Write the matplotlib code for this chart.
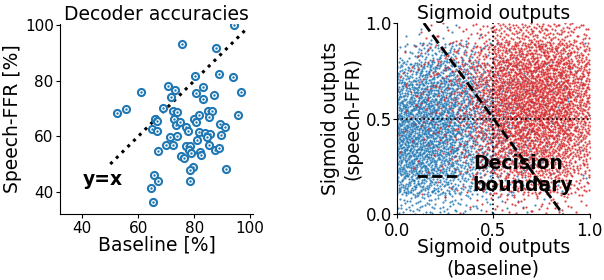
import numpy as np
from matplotlib import pyplot as plt

# left panel: decoder accuracies (%), one point per subject
baseline = [94.4, 75.8, 87.9, 80.2, 88.9, 93.7, 61.0, 70.5, 73.3, 71.6,
            80.8, 83.0, 83.2, 86.9, 96.9, 52.4, 55.6, 69.0, 72.3, 74.0,
            65.8, 66.6, 72.6, 73.6, 74.9, 77.1, 77.8, 79.8, 80.6, 81.8,
            85.1, 86.2, 85.4, 89.2, 91.0, 95.5, 64.9, 66.8, 71.4, 73.8,
            81.7, 83.7, 85.7, 84.5, 89.5, 80.9, 69.9, 72.4, 67.1, 76.9,
            78.5, 85.4, 87.3, 88.7, 78.3, 78.8, 82.1, 82.3, 75.2, 76.2,
            79.6, 78.6, 91.2, 78.6, 65.5, 67.1, 64.4, 65.4]
speech_ffr = [100.0, 93.2, 91.8, 81.9, 82.3, 81.2, 75.9, 78.2, 76.8, 74.3,
              75.7, 77.9, 73.3, 74.7, 75.9, 68.5, 69.8, 70.3, 69.1, 68.6,
              66.1, 65.4, 66.1, 64.0, 65.0, 63.3, 61.8, 66.2, 65.0, 67.6,
              69.0, 69.1, 66.9, 64.3, 63.3, 67.7, 62.6, 61.9, 59.7, 60.1,
              61.4, 61.1, 60.8, 59.6, 60.4, 58.6, 57.0, 57.0, 54.7, 56.5,
              56.4, 56.9, 55.2, 55.8, 55.0, 53.9, 54.3, 53.1, 53.0, 52.0,
              49.1, 47.8, 48.3, 44.0, 45.9, 43.8, 41.2, 36.4]
identity = [50, 99]

# right panel: point counts per 0.1 x 0.1 cell, rows from y=0.9 (top) down to y=0.0
blue_counts = [
    [1, 3, 3, 2, 1, 1, 0, 0, 0, 0],
    [12, 30, 32, 20, 8, 4, 3, 2, 2, 1],
    [45, 60, 55, 40, 20, 10, 6, 4, 3, 2],
    [70, 80, 75, 55, 30, 15, 8, 5, 4, 2],
    [90, 95, 85, 60, 35, 18, 10, 6, 4, 2],
    [100, 100, 90, 60, 35, 20, 10, 6, 4, 2],
    [100, 95, 80, 55, 32, 18, 10, 5, 3, 2],
    [85, 80, 65, 45, 26, 14, 8, 4, 3, 1],
    [60, 55, 45, 30, 18, 10, 6, 3, 2, 1],
    [20, 22, 18, 12, 8, 5, 3, 2, 1, 0],
]
red_counts = [
    [0, 3, 5, 8, 15, 30, 35, 35, 30, 20],
    [2, 6, 10, 15, 30, 55, 65, 65, 60, 40],
    [4, 8, 12, 20, 40, 70, 85, 85, 80, 55],
    [5, 8, 12, 22, 45, 80, 95, 95, 90, 60],
    [4, 6, 10, 20, 45, 80, 95, 95, 90, 60],
    [3, 5, 8, 16, 38, 70, 85, 85, 80, 55],
    [2, 3, 6, 12, 28, 55, 70, 70, 65, 45],
    [1, 2, 4, 8, 18, 38, 50, 50, 48, 32],
    [0, 1, 2, 4, 10, 20, 28, 30, 28, 20],
    [0, 0, 1, 2, 4, 8, 10, 10, 10, 6],
]
boundary_x = [0.14, 0.86]
boundary_y = [1.0, 0.0]


def halton(i, b):
    f, r = 1.0, 0.0
    while i > 0:
        f /= b
        r += f * (i % b)
        i //= b
    return r


def cells_to_points(counts, start):
    xs, ys = [], []
    idx = start
    nrows = len(counts)
    for r, row in enumerate(counts):
        y0 = (nrows - 1 - r) * 0.1
        for c, n in enumerate(row):
            x0 = c * 0.1
            for k in range(n):
                idx += 1
                xs.append(x0 + 0.1 * halton(idx, 2))
                ys.append(y0 + 0.1 * halton(idx, 3))
    return np.array(xs), np.array(ys)


plt.rcParams['font.size'] = 13.5

fig = plt.figure(figsize=(6.04, 2.8), dpi=100)
ax1 = fig.add_axes([0.0993, 0.2357, 0.3195, 0.679])
ax2 = fig.add_axes([0.657, 0.2357, 0.3195, 0.682])

# left
ax1.plot(identity, identity, ':', color='black', lw=2.2)
ax1.scatter(baseline, speech_ffr, s=26, facecolor='white', edgecolor='#1f77b4',
            linewidths=1.5, zorder=3)
ax1.scatter(baseline, speech_ffr, s=3, color='#1f77b4', linewidths=0, zorder=4)
ax1.text(40, 44.3, 'y=x', fontweight='bold', va='center', ha='left')
ax1.set_xlim(32, 101)
ax1.set_ylim(32, 100.5)
ax1.set_xticks([40, 60, 80, 100])
ax1.set_yticks([40, 60, 80, 100])
ax1.tick_params(axis='both', labelsize=11, length=3)
ax1.tick_params(axis='x', pad=2)
ax1.tick_params(axis='y', pad=1.5)
ax1.set_xlabel('Baseline [%]')
ax1.set_ylabel('Speech-FFR [%]')
ax1.xaxis.set_label_coords(0.5, -0.115)
ax1.yaxis.set_label_coords(-0.197, 0.5)
ax1.set_title('Decoder accuracies', fontsize=13.5, pad=1.5)
ax1.spines['top'].set_visible(False)
ax1.spines['right'].set_visible(False)

# right
bx, by = cells_to_points(blue_counts, 0)
rx, ry = cells_to_points(red_counts, 20000)
ax2.scatter(bx, by, s=2.5, color='#1f77b4', linewidths=0, alpha=0.85)
ax2.scatter(rx, ry, s=2.5, color='#d62728', linewidths=0, alpha=0.85)
ax2.axvline(0.5, color='black', ls=':', lw=1.2)
ax2.axhline(0.5, color='black', ls=':', lw=1.2)
line, = ax2.plot(boundary_x, boundary_y, '--', color='black', lw=2)
ax2.legend([line], ['Decision\nboundary'], loc='center left',
           bbox_to_anchor=(0.015, 0.205), frameon=False,
           prop={'weight': 'bold', 'size': 13.5}, handlelength=2.2,
           handletextpad=0.8)
ax2.set_xlim(0, 1)
ax2.set_ylim(0, 1)
ax2.set_xticks([0, 0.5, 1])
ax2.set_yticks([0, 0.5, 1])
ax2.tick_params(axis='both', labelsize=12, length=3)
ax2.tick_params(axis='x', pad=2.5)
ax2.tick_params(axis='y', pad=0.5)
ax2.set_xlabel('Sigmoid outputs\n(baseline)')
ax2.set_ylabel('Sigmoid outputs\n(speech-FFR)')
ax2.xaxis.set_label_coords(0.5, -0.125)
ax2.yaxis.set_label_coords(-0.18, 0.5)
ax2.set_title('Sigmoid outputs', fontsize=13.5, pad=1.5)
ax2.spines['top'].set_visible(False)
ax2.spines['right'].set_visible(False)

plt.savefig('out.png', dpi=100)
